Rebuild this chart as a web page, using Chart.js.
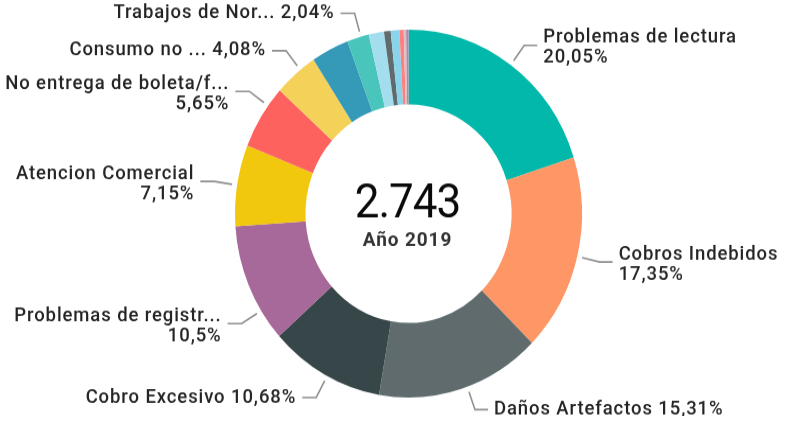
<!DOCTYPE html>
<html>
<head>
<meta charset="utf-8">
<script src="https://cdn.jsdelivr.net/npm/chart.js@4.4.1/dist/chart.umd.min.js"></script>
<style>
  html, body { margin: 0; padding: 0; background: #ffffff; overflow: hidden; }
  #marco { width: 790px; height: 416px; transform: scaleY(1.0601); transform-origin: 0 0; }
  canvas { display: block; }
</style>
</head>
<body>
<div id="marco"><canvas id="grafico" width="790" height="416"></canvas></div>
<script>
// Reclamos por motivo, año 2019
const categorias = [
  'Problemas de lectura', 'Cobros Indebidos', 'Daños Artefactos', 'Cobro Excesivo',
  'Problemas de registr...', 'Atencion Comercial', 'No entrega de boleta/f...', 'Consumo no ...',
  'Otros (1)', 'Trabajos de Nor...', 'Otros (2)', 'Otros (3)',
  'Otros (4)', 'Otros (5)', 'Otros (6)', 'Otros (7)'
];
const reclamos = [550, 476, 420, 293, 288, 196, 155, 112, 96, 56, 39, 17, 22, 11, 6, 6];
const colores = [
  '#01B8AA', '#FE9666', '#5F6B6D', '#374649', '#A66999', '#F2C80F', '#FD625E', '#F4D25A',
  '#3599B8', '#4AC5BB', '#A4DDEE', '#5F6B6D', '#8AD4EB', '#FB8281', '#DFBFBF', '#B687AC'
];
const conEtiqueta = [true, true, true, true, true, true, true, true,
                     false, true, false, false, false, false, false, false];
const subtitulo = 'Año 2019';

// desplazamiento angular (grados) de algunas líneas guía para evitar choques
const ajusteGuia = {
  'Problemas de registr...': -9,
  'No entrega de boleta/f...': 4,
  'Consumo no ...': 2,
  'Daños Artefactos': -2,
  'Cobro Excesivo': -1,
  'Trabajos de Nor...': 1
};

const total = reclamos.reduce((a, b) => a + b, 0);

function formatoPct(v) {
  return (Math.round(v * 100) / 100).toString().replace('.', ',') + '%';
}
function formatoMiles(n) {
  return n.toString().replace(/\B(?=(\d{3})+(?!\d))/g, '.');
}

const etiquetasExternas = {
  id: 'etiquetasExternas',
  afterDatasetsDraw(chart) {
    const ctx = chart.ctx;
    const meta = chart.getDatasetMeta(0);
    ctx.save();
    ctx.font = '500 18.5px Roboto';
    ctx.letterSpacing = '0.9px';
    ctx.textBaseline = 'middle';
    meta.data.forEach((arc, i) => {
      if (!conEtiqueta[i]) return;
      const p = arc.getProps(['x', 'y', 'startAngle', 'endAngle', 'outerRadius'], true);
      const a = (p.startAngle + p.endAngle) / 2 + (ajusteGuia[categorias[i]] || 0) * Math.PI / 180;
      const c = Math.cos(a), s = Math.sin(a);
      const r1 = p.outerRadius + 5, r2 = p.outerRadius + 23;
      const x1 = p.x + r1 * c, y1 = p.y + r1 * s;
      const x2 = p.x + r2 * c, y2 = p.y + r2 * s;
      const der = c >= 0;
      const x3 = x2 + (der ? 13 : -14);

      ctx.strokeStyle = '#8f8f8f';
      ctx.lineWidth = 1.6;
      ctx.beginPath();
      ctx.moveTo(x1, y1);
      ctx.lineTo(x2, y2);
      ctx.lineTo(x3, y2);
      ctx.stroke();

      const pct = formatoPct(reclamos[i] / total * 100);
      const nombre = categorias[i];
      const tx = x3 + (der ? 6 : -6);
      ctx.fillStyle = '#252423';
      ctx.textAlign = der ? 'left' : 'right';
      const linea = nombre + ' ' + pct;
      const w = ctx.measureText(linea).width;
      const cabe = der ? (tx + w <= chart.width - 4) : (tx - w >= 4);
      if (cabe) {
        ctx.fillText(linea, tx, y2);
      } else {
        ctx.fillText(nombre, tx, y2 - 7);
        ctx.fillText(pct, tx, y2 + 12);
      }
    });
    ctx.restore();
  }
};

const textoCentral = {
  id: 'textoCentral',
  afterDraw(chart) {
    const ctx = chart.ctx;
    const arc = chart.getDatasetMeta(0).data[0];
    const cx = arc.x, cy = arc.y;
    ctx.save();
    ctx.textAlign = 'center';
    ctx.textBaseline = 'middle';
    ctx.fillStyle = '#0a0a0a';
    ctx.font = '44px Roboto';
    ctx.letterSpacing = '-1px';
    ctx.fillText(formatoMiles(total), cx - 1, cy - 8);
    ctx.fillStyle = '#333333';
    ctx.font = 'bold 19px Roboto';
    ctx.letterSpacing = '0.9px';
    ctx.fillText(subtitulo, cx - 1, cy + 26);
    ctx.restore();
  }
};

new Chart(document.getElementById('grafico'), {
  type: 'doughnut',
  data: {
    labels: categorias,
    datasets: [{
      data: reclamos,
      backgroundColor: colores,
      borderWidth: 0
    }]
  },
  options: {
    responsive: false,
    animation: false,
    cutout: '59.4%',
    layout: { padding: { left: 235, right: 208, top: 28, bottom: 41 } },
    plugins: {
      legend: { display: false },
      tooltip: { enabled: false }
    }
  },
  plugins: [etiquetasExternas, textoCentral]
});
</script>
</body>
</html>
